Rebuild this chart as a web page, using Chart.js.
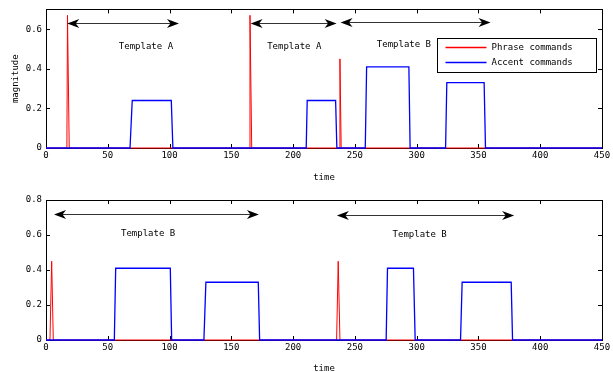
<!DOCTYPE html>
<html>
<head>
<meta charset="utf-8">
<script src="https://cdn.jsdelivr.net/npm/chart.js@4.4.1/dist/chart.umd.min.js"></script>
<style>
  body { margin: 0; background: #fff; width: 613px; height: 372px; overflow: hidden; position: relative; }
  canvas { position: absolute; left: 0; }
  #topChart { top: 0; }
  #bottomChart { top: 186px; }
</style>
</head>
<body>
<canvas id="topChart" width="613" height="186"></canvas>
<canvas id="bottomChart" width="613" height="186"></canvas>
<script>
// Tick labels
const xTicks = [0, 50, 100, 150, 200, 250, 300, 350, 400, 450];
const yTicksTop = [0, 0.2, 0.4, 0.6];
const yTicksBottom = [0, 0.2, 0.4, 0.6, 0.8];
const seriesNames = ['Phrase commands', 'Accent commands'];

// Top plot
const phraseTopT = [0, 16.9, 17.4, 18.8, 164.6, 165.1, 166.5, 237.2, 237.9, 238.9, 450];
const phraseTopV = [0, 0, 0.67, 0, 0, 0.67, 0, 0, 0.45, 0, 0];
const accentTopT = [0, 68.0, 69.8, 101.4, 102.7, 210.6, 211.4, 234.4, 235.4, 258.4, 259.5, 293.7, 294.7, 323.4, 324.4, 354.6, 355.7, 450];
const accentTopV = [0, 0, 0.24, 0.24, 0, 0, 0.24, 0.24, 0, 0, 0.41, 0.41, 0, 0, 0.33, 0.33, 0, 0];

// Bottom plot
const phraseBotT = [0, 3.2, 4.6, 5.9, 235.2, 236.5, 237.9, 450];
const phraseBotV = [0, 0, 0.45, 0, 0, 0.45, 0, 0];
const accentBotT = [0, 55.3, 56.4, 100.6, 101.7, 127.8, 129.4, 171.8, 172.9, 275.3, 276.4, 297.4, 298.8, 335.5, 336.8, 376.5, 377.6, 450];
const accentBotV = [0, 0, 0.41, 0.41, 0, 0, 0.33, 0.33, 0, 0, 0.41, 0.41, 0, 0, 0.33, 0.33, 0, 0];

// Template arrows and notes (data coordinates)
const topArrowStart = [17.2, 165.6, 238.4];
const topArrowEnd = [107.6, 235.2, 359.8];
const topArrowLevel = [0.632, 0.632, 0.638];
const topNotes = ['Template A', 'Template A', 'Template B'];
const topNoteX = [80.9, 200.9, 289.7];
const topNoteY = [0.511, 0.511, 0.521];

const botArrowStart = [6.5, 235.4];
const botArrowEnd = [172.3, 378.9];
const botArrowLevel = [0.72, 0.716];
const botNotes = ['Template B', 'Template B'];
const botNoteX = [82.6, 302.4];
const botNoteY = [0.61, 0.60];

Chart.defaults.font.family = "'DejaVu Sans Mono', monospace";
Chart.defaults.font.size = 9;
Chart.defaults.color = '#000';

const pts = (t, v) => t.map((x, i) => ({ x, y: v[i] }));

// Box around the axes with inward ticks, MATLAB style (drawn under the lines)
const framePlugin = {
  id: 'frame',
  beforeDatasetsDraw(chart) {
    const { ctx, chartArea: a, scales: { x, y } } = chart;
    ctx.save();
    ctx.strokeStyle = '#000';
    ctx.lineWidth = 1;
    ctx.beginPath();
    x.ticks.forEach(t => {
      const px = Math.round(x.getPixelForValue(t.value)) + 0.5;
      ctx.moveTo(px, a.bottom); ctx.lineTo(px, a.bottom - 4);
      ctx.moveTo(px, a.top); ctx.lineTo(px, a.top + 4);
    });
    y.ticks.forEach(t => {
      const py = Math.round(y.getPixelForValue(t.value)) + 0.5;
      ctx.moveTo(a.left, py); ctx.lineTo(a.left + 4, py);
      ctx.moveTo(a.right, py); ctx.lineTo(a.right - 4, py);
    });
    ctx.stroke();
    ctx.strokeRect(Math.round(a.left) + 0.5, Math.round(a.top) + 0.5,
      Math.round(a.right - a.left), Math.round(a.bottom - a.top));
    ctx.restore();
  }
};

function arrowHead(ctx, tip, y, dir) {
  const L = 12, W = 4.5, back = 3.5;
  ctx.beginPath();
  ctx.moveTo(tip, y);
  ctx.lineTo(tip - dir * L, y - W);
  ctx.lineTo(tip - dir * (L - back), y);
  ctx.lineTo(tip - dir * L, y + W);
  ctx.closePath();
  ctx.fill();
}

// Double arrows with their template names
function notesPlugin(starts, ends, levels, notes, noteX, noteY) {
  return {
    id: 'notes',
    afterDatasetsDraw(chart) {
      const { ctx, scales: { x, y } } = chart;
      ctx.save();
      ctx.strokeStyle = '#333';
      ctx.fillStyle = '#000';
      ctx.lineWidth = 1.2;
      starts.forEach((s, i) => {
        const x0 = x.getPixelForValue(s);
        const x1 = x.getPixelForValue(ends[i]);
        const py = Math.round(y.getPixelForValue(levels[i])) + 0.5;
        ctx.beginPath();
        ctx.moveTo(x0 + 8, py);
        ctx.lineTo(x1 - 8, py);
        ctx.stroke();
        arrowHead(ctx, x0, py, -1);
        arrowHead(ctx, x1, py, 1);
      });
      ctx.font = "9px 'DejaVu Sans Mono', monospace";
      ctx.textAlign = 'center';
      ctx.textBaseline = 'middle';
      notes.forEach((n, i) => {
        ctx.fillText(n, x.getPixelForValue(noteX[i]), y.getPixelForValue(noteY[i]));
      });
      ctx.restore();
    }
  };
}

// Legend box inside the top axes
const legendPlugin = {
  id: 'boxLegend',
  afterDatasetsDraw(chart) {
    const { ctx, chartArea: a } = chart;
    const right = a.right - 6, top = Math.round(a.top + 29) + 0.5;
    const w = 159, h = 34;
    const left = Math.round(right - w) + 0.5;
    ctx.save();
    ctx.fillStyle = '#fff';
    ctx.fillRect(left, top, w, h);
    ctx.strokeStyle = '#000';
    ctx.lineWidth = 1;
    ctx.strokeRect(left, top, w, h);
    ctx.font = "9px 'DejaVu Sans Mono', monospace";
    ctx.textBaseline = 'middle';
    ctx.fillStyle = '#000';
    chart.data.datasets.forEach((ds, i) => {
      const ly = top + 9 + i * 15;
      ctx.strokeStyle = ds.borderColor;
      ctx.lineWidth = ds.borderWidth + 0.3;
      ctx.beginPath();
      ctx.moveTo(left + 8, ly);
      ctx.lineTo(left + 49, ly);
      ctx.stroke();
      ctx.fillText(ds.label, left + 54, ly);
    });
    ctx.restore();
  }
};

function makeChart(id, phrase, accent, yTicks, yMax, opts) {
  return new Chart(document.getElementById(id), {
    type: 'line',
    data: {
      datasets: [
        { label: seriesNames[0], data: phrase, borderColor: '#ff0000', borderWidth: 1, pointRadius: 0, tension: 0, order: 1, clip: 2 },
        { label: seriesNames[1], data: accent, borderColor: '#0000ff', borderWidth: 1.3, pointRadius: 0, tension: 0, order: 0, clip: 2 }
      ]
    },
    options: {
      responsive: false,
      animation: false,
      events: [],
      layout: { padding: { top: opts.padTop, right: 11, left: 0, bottom: 0 } },
      plugins: { legend: { display: false }, tooltip: { enabled: false } },
      scales: {
        x: {
          type: 'linear',
          min: 0, max: 450,
          afterBuildTicks: s => { s.ticks = xTicks.map(v => ({ value: v })); },
          afterFit: s => { s.height = opts.xHeight; },
          grid: { display: false, drawTicks: false },
          border: { display: false },
          ticks: { padding: 2, maxRotation: 0, autoSkip: false, callback: v => String(v) },
          title: { display: true, text: 'time', font: { size: 9, lineHeight: 1 }, padding: { top: 0, bottom: opts.titlePad } }
        },
        y: {
          min: 0, max: yMax,
          afterBuildTicks: s => { s.ticks = yTicks.map(v => ({ value: v })); },
          afterFit: s => { s.width = 46; },
          grid: { display: false, drawTicks: false },
          border: { display: false },
          ticks: { padding: 4, callback: v => v === 0 ? '0' : v.toFixed(1) },
          title: { display: opts.yTitle, text: 'magnitude', font: { size: 9, lineHeight: 1 }, padding: { top: 11.5, bottom: 0 } }
        }
      }
    },
    plugins: opts.plugins
  });
}

makeChart('topChart', pts(phraseTopT, phraseTopV), pts(accentTopT, accentTopV), yTicksTop, 0.7, {
  padTop: 8, xHeight: 38, titlePad: 3.5, yTitle: true,
  plugins: [framePlugin, notesPlugin(topArrowStart, topArrowEnd, topArrowLevel, topNotes, topNoteX, topNoteY), legendPlugin]
});

makeChart('bottomChart', pts(phraseBotT, phraseBotV), pts(accentBotT, accentBotV), yTicksBottom, 0.8, {
  padTop: 14, xHeight: 32, titlePad: -1.5, yTitle: false,
  plugins: [framePlugin, notesPlugin(botArrowStart, botArrowEnd, botArrowLevel, botNotes, botNoteX, botNoteY)]
});
</script>
</body>
</html>
